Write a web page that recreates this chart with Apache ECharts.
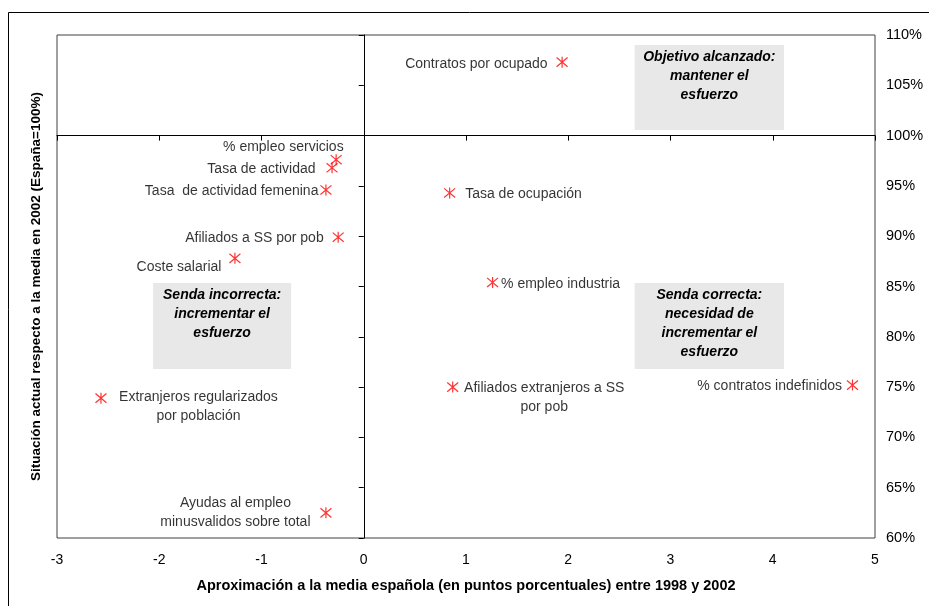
<!DOCTYPE html>
<html>
<head>
<meta charset="utf-8">
<script src="https://cdn.jsdelivr.net/npm/echarts@6/dist/echarts.min.js"></script>
<style>
  html, body { margin: 0; padding: 0; background: #fff; }
  #chart { width: 929px; height: 606px; }
</style>
</head>
<body>
<div id="chart"></div>
<script>
// indicadores y valores
const indicadores = [
  'Contratos por ocupado',
  '% empleo servicios',
  'Tasa de actividad',
  'Tasa  de actividad femenina',
  'Afiliados a SS por pob',
  'Coste salarial',
  'Tasa de ocupación',
  '% empleo industria',
  'Afiliados extranjeros a SS\npor pob',
  '% contratos indefinidos',
  'Extranjeros regularizados\npor población',
  'Ayudas al empleo\nminusvalidos sobre total'
]
// aproximación (puntos porcentuales 1998-2002)
const aproximacion = [1.94, -0.27, -0.31, -0.37, -0.25, -1.26, 0.84, 1.26, 0.87, 4.78, -2.57, -0.37]
// situación actual (España = 100%)
const situacion = [107.3, 97.6, 96.8, 94.6, 89.9, 87.8, 94.3, 85.4, 75.0, 75.2, 73.9, 62.5]

const xTicks = { min: -3, max: 5, step: 1 }
const yTicks = { min: 60, max: 110, step: 5 }

// cuadros de texto (zonas)
const zonas = [
  { texto: 'Objetivo alcanzado:\nmantener el\nesfuerzo', x: [2.65, 4.11], y: [100.55, 109.0] },
  { texto: 'Senda correcta:\nnecesidad de\nincrementar el\nesfuerzo', x: [2.65, 4.11], y: [76.8, 85.35] },
  { texto: 'Senda incorrecta:\nincrementar el\nesfuerzo', x: [-2.06, -0.71], y: [76.8, 85.35] }
]

// colocación de las etiquetas respecto al marcador: [dx, dy, align]
const colocacion = [
  [-12, 4, 'right'],
  [10, -10, 'right'],
  [-14, 4, 'right'],
  [-5, 4, 'right'],
  [-12, 3, 'right'],
  [-11, 11, 'right'],
  [18, 4, 'left'],
  [11, 4, 'left'],
  [94, 13, 'center'],
  [-8, 4, 'right'],
  [100, 11, 'center'],
  [-88, 2, 'center']
]

const chartDom = document.getElementById('chart')
const chart = echarts.init(chartDom, null, { renderer: 'canvas' })

const gridTop = 35
const gridBottom = 68
const plotH = chart.getHeight() - gridTop - gridBottom
const offsetEje = -plotH * (yTicks.max - 100) / (yTicks.max - yTicks.min)

const symSize = 11
const asterisco = 'path://M0,-6L0,6M-5,-5L5,5M5,-5L-5,5'
const fuente = 'Arial, "Liberation Sans", sans-serif'

const datos = indicadores.map((name, i) => {
  const c = colocacion[i]
  return {
    name: name,
    value: [aproximacion[i], situacion[i]],
    label: {
      position: [symSize / 2 + c[0], symSize / 2 + c[1]],
      align: c[2],
      verticalAlign: 'middle'
    }
  }
})

const option = {
  animation: false,
  backgroundColor: '#fff',
  textStyle: { fontFamily: fuente },
  grid: {
    left: 57,
    right: 54,
    top: gridTop,
    bottom: gridBottom,
    show: true,
    borderColor: '#404040',
    borderWidth: 1,
    backgroundColor: 'transparent'
  },
  graphic: [
    {
      type: 'rect',
      shape: { x: 8.5, y: 12.5, width: 1000, height: 1000 },
      style: { fill: 'none', stroke: '#000', lineWidth: 1 },
      silent: true
    }
  ],
  xAxis: [
    {
      type: 'value',
      position: 'bottom',
      min: xTicks.min,
      max: xTicks.max,
      interval: xTicks.step,
      axisLine: { show: false, onZero: false },
      axisTick: { show: false },
      splitLine: { show: false },
      axisLabel: { color: '#000', fontSize: 14, margin: 15, fontFamily: fuente },
      name: 'Aproximación a la media española (en puntos porcentuales) entre 1998 y 2002',
      nameLocation: 'middle',
      nameGap: 40,
      nameTextStyle: { color: '#000', fontSize: 14.5, fontWeight: 'bold', fontFamily: fuente }
    },
    {
      type: 'value',
      position: 'top',
      offset: offsetEje,
      min: xTicks.min,
      max: xTicks.max,
      interval: xTicks.step,
      axisLine: { show: true, onZero: false, lineStyle: { color: '#000', width: 1 } },
      axisTick: { show: true, inside: true, length: 5, lineStyle: { color: '#000' } },
      axisLabel: { show: false },
      splitLine: { show: false }
    }
  ],
  yAxis: [
    {
      type: 'value',
      position: 'right',
      min: yTicks.min,
      max: yTicks.max,
      interval: yTicks.step,
      axisLine: { show: false, onZero: false },
      axisTick: { show: false },
      splitLine: { show: false },
      axisLabel: {
        color: '#000',
        fontSize: 14.5,
        margin: 11,
        fontFamily: fuente,
        formatter: v => v + '%'
      }
    },
    {
      type: 'value',
      position: 'left',
      min: yTicks.min,
      max: yTicks.max,
      interval: yTicks.step,
      axisLine: { show: true, onZero: true, onZeroAxisIndex: 0, lineStyle: { color: '#000', width: 1 } },
      axisTick: { show: true, length: 5, lineStyle: { color: '#000' } },
      axisLabel: { show: false },
      splitLine: { show: false }
    },
    {
      type: 'value',
      position: 'left',
      min: yTicks.min,
      max: yTicks.max,
      axisLine: { show: false, onZero: false },
      axisTick: { show: false },
      axisLabel: { show: false },
      splitLine: { show: false },
      name: 'Situación actual respecto a la media en 2002 (España=100%)',
      nameLocation: 'middle',
      nameGap: 14,
      nameTextStyle: { color: '#000', fontSize: 13.5, fontWeight: 'bold', fontFamily: fuente }
    }
  ],
  series: [
    {
      type: 'scatter',
      xAxisIndex: 0,
      yAxisIndex: 0,
      symbol: asterisco,
      symbolSize: symSize,
      itemStyle: { color: 'none', borderColor: '#ff0000', borderWidth: 1.2 },
      label: {
        show: true,
        formatter: p => p.name,
        color: '#000',
        fontSize: 14,
        lineHeight: 19,
        fontFamily: fuente
      },
      emphasis: { disabled: true },
      data: datos,
      markArea: {
        silent: true,
        itemStyle: { color: '#e8e8e8' },
        label: {
          show: true,
          position: 'insideTop',
          distance: 3,
          color: '#000',
          fontSize: 14,
          fontStyle: 'italic',
          fontWeight: 'bold',
          lineHeight: 19,
          align: 'center',
          fontFamily: fuente
        },
        data: zonas.map(z => [
          { name: z.texto, coord: [z.x[0], z.y[1]] },
          { coord: [z.x[1], z.y[0]] }
        ])
      },
      z: 3
    }
  ]
}

chart.setOption(option)
</script>
</body>
</html>
